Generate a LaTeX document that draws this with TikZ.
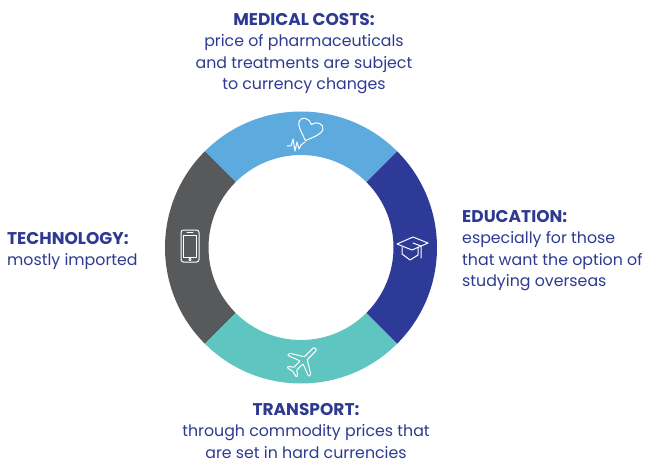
\documentclass[tikz,border=0pt]{standalone}
\usepackage{fontspec}
\setmainfont{Poppins}
\definecolor{segblue}{RGB}{93,171,222}
\definecolor{segnavy}{RGB}{45,58,151}
\definecolor{seggray}{RGB}{88,89,91}
\definecolor{segteal}{RGB}{94,197,192}
\definecolor{txtnavy}{RGB}{46,58,145}
\newcommand{\ttl}[1]{{\fontsize{17}{21.5}\selectfont\bfseries #1}}
\tikzset{
  lbl/.style={inner sep=0pt, text=txtnavy, font=\fontsize{15.8}{21.5}\selectfont},
  icon/.style={draw=white, line width=1pt, line join=round, line cap=round}
}
\begin{document}
\begin{tikzpicture}[x=1pt,y=1pt]
\useasboundingbox (0,0) rectangle (650,464);
\coordinate (C) at (301,216.5);
% ring segments
\fill[segblue] ([shift={(45:136)}]C) arc (45:135:136) -- ([shift={(135:92.5)}]C) arc (135:45:92.5) -- cycle;
\fill[seggray] ([shift={(135:136)}]C) arc (135:225:136) -- ([shift={(225:92.5)}]C) arc (225:135:92.5) -- cycle;
\fill[segteal] ([shift={(225:136)}]C) arc (225:315:136) -- ([shift={(315:92.5)}]C) arc (315:225:92.5) -- cycle;
\fill[segnavy] ([shift={(-45:136)}]C) arc (-45:45:136) -- ([shift={(45:92.5)}]C) arc (45:-45:92.5) -- cycle;
% heart icon
\begin{scope}[shift={(309,333)}, rotate=-20, scale=1.15]
\draw[icon] (0,-9) .. controls (-6,-3) and (-11,1) .. (-11,5) .. controls (-11,10) and (-3,11) .. (0,6) .. controls (3,11) and (11,10) .. (11,5) .. controls (11,1) and (6,-3) .. (0,-9);
\end{scope}
\draw[icon] (287,318) -- (291,318) -- (293,325) -- (295,313) -- (297,322) -- (299,315) -- (301,319) -- (305,322);
% graduation cap
\draw[icon] (397,220) -- (413,227) -- (428,221) -- (412,214) -- cycle;
\draw[icon] (402,217) -- (402,210) -- (410,204) -- (418,209) -- (418,217);
\draw[icon] (413,221) -- (421,218) -- (421,206);
% phone
\draw[icon, rounded corners=2.5pt] (181,202) rectangle (199,234);
\draw[icon] (183.5,207) rectangle (196.5,229);
\draw[icon] (187,231.5) -- (193,231.5);
\draw[icon, line width=0.8pt] (190,204.5) circle (1.2);
% plane
\begin{scope}[shift={(303,103)}, rotate=45]
\draw[icon, rounded corners=0.8pt] (18,0) .. controls (18,1.8) and (16,2) .. (14,2) -- (4,2) -- (-4,15) -- (-7,15) -- (-2,2) -- (-11,2) -- (-14,6.5) -- (-16,6.5) -- (-14.5,0) -- (-16,-6.5) -- (-14,-6.5) -- (-11,-2) -- (-2,-2) -- (-7,-15) -- (-4,-15) -- (4,-2) -- (14,-2) .. controls (16,-2) and (18,-1.8) .. (18,0);
\end{scope}
% labels
\node[lbl, anchor=north, align=center] (med) at (304,451) {\ttl{MEDICAL COSTS:}\\price of pharmaceuticals\\and treatments are subject\\to currency changes};
\node[lbl, anchor=north west, align=left] (edu) at (462,254) {\ttl{EDUCATION:}\\especially for those\\that want the option of\\studying overseas};
\node[lbl, anchor=north west, align=left] (tech) at (7,232) {\ttl{TECHNOLOGY:}\\mostly imported};
\node[lbl, anchor=north, align=center] (trans) at (306,61) {\ttl{TRANSPORT:}\\through commodity prices that\\are set in hard currencies};
\end{tikzpicture}
\end{document}
